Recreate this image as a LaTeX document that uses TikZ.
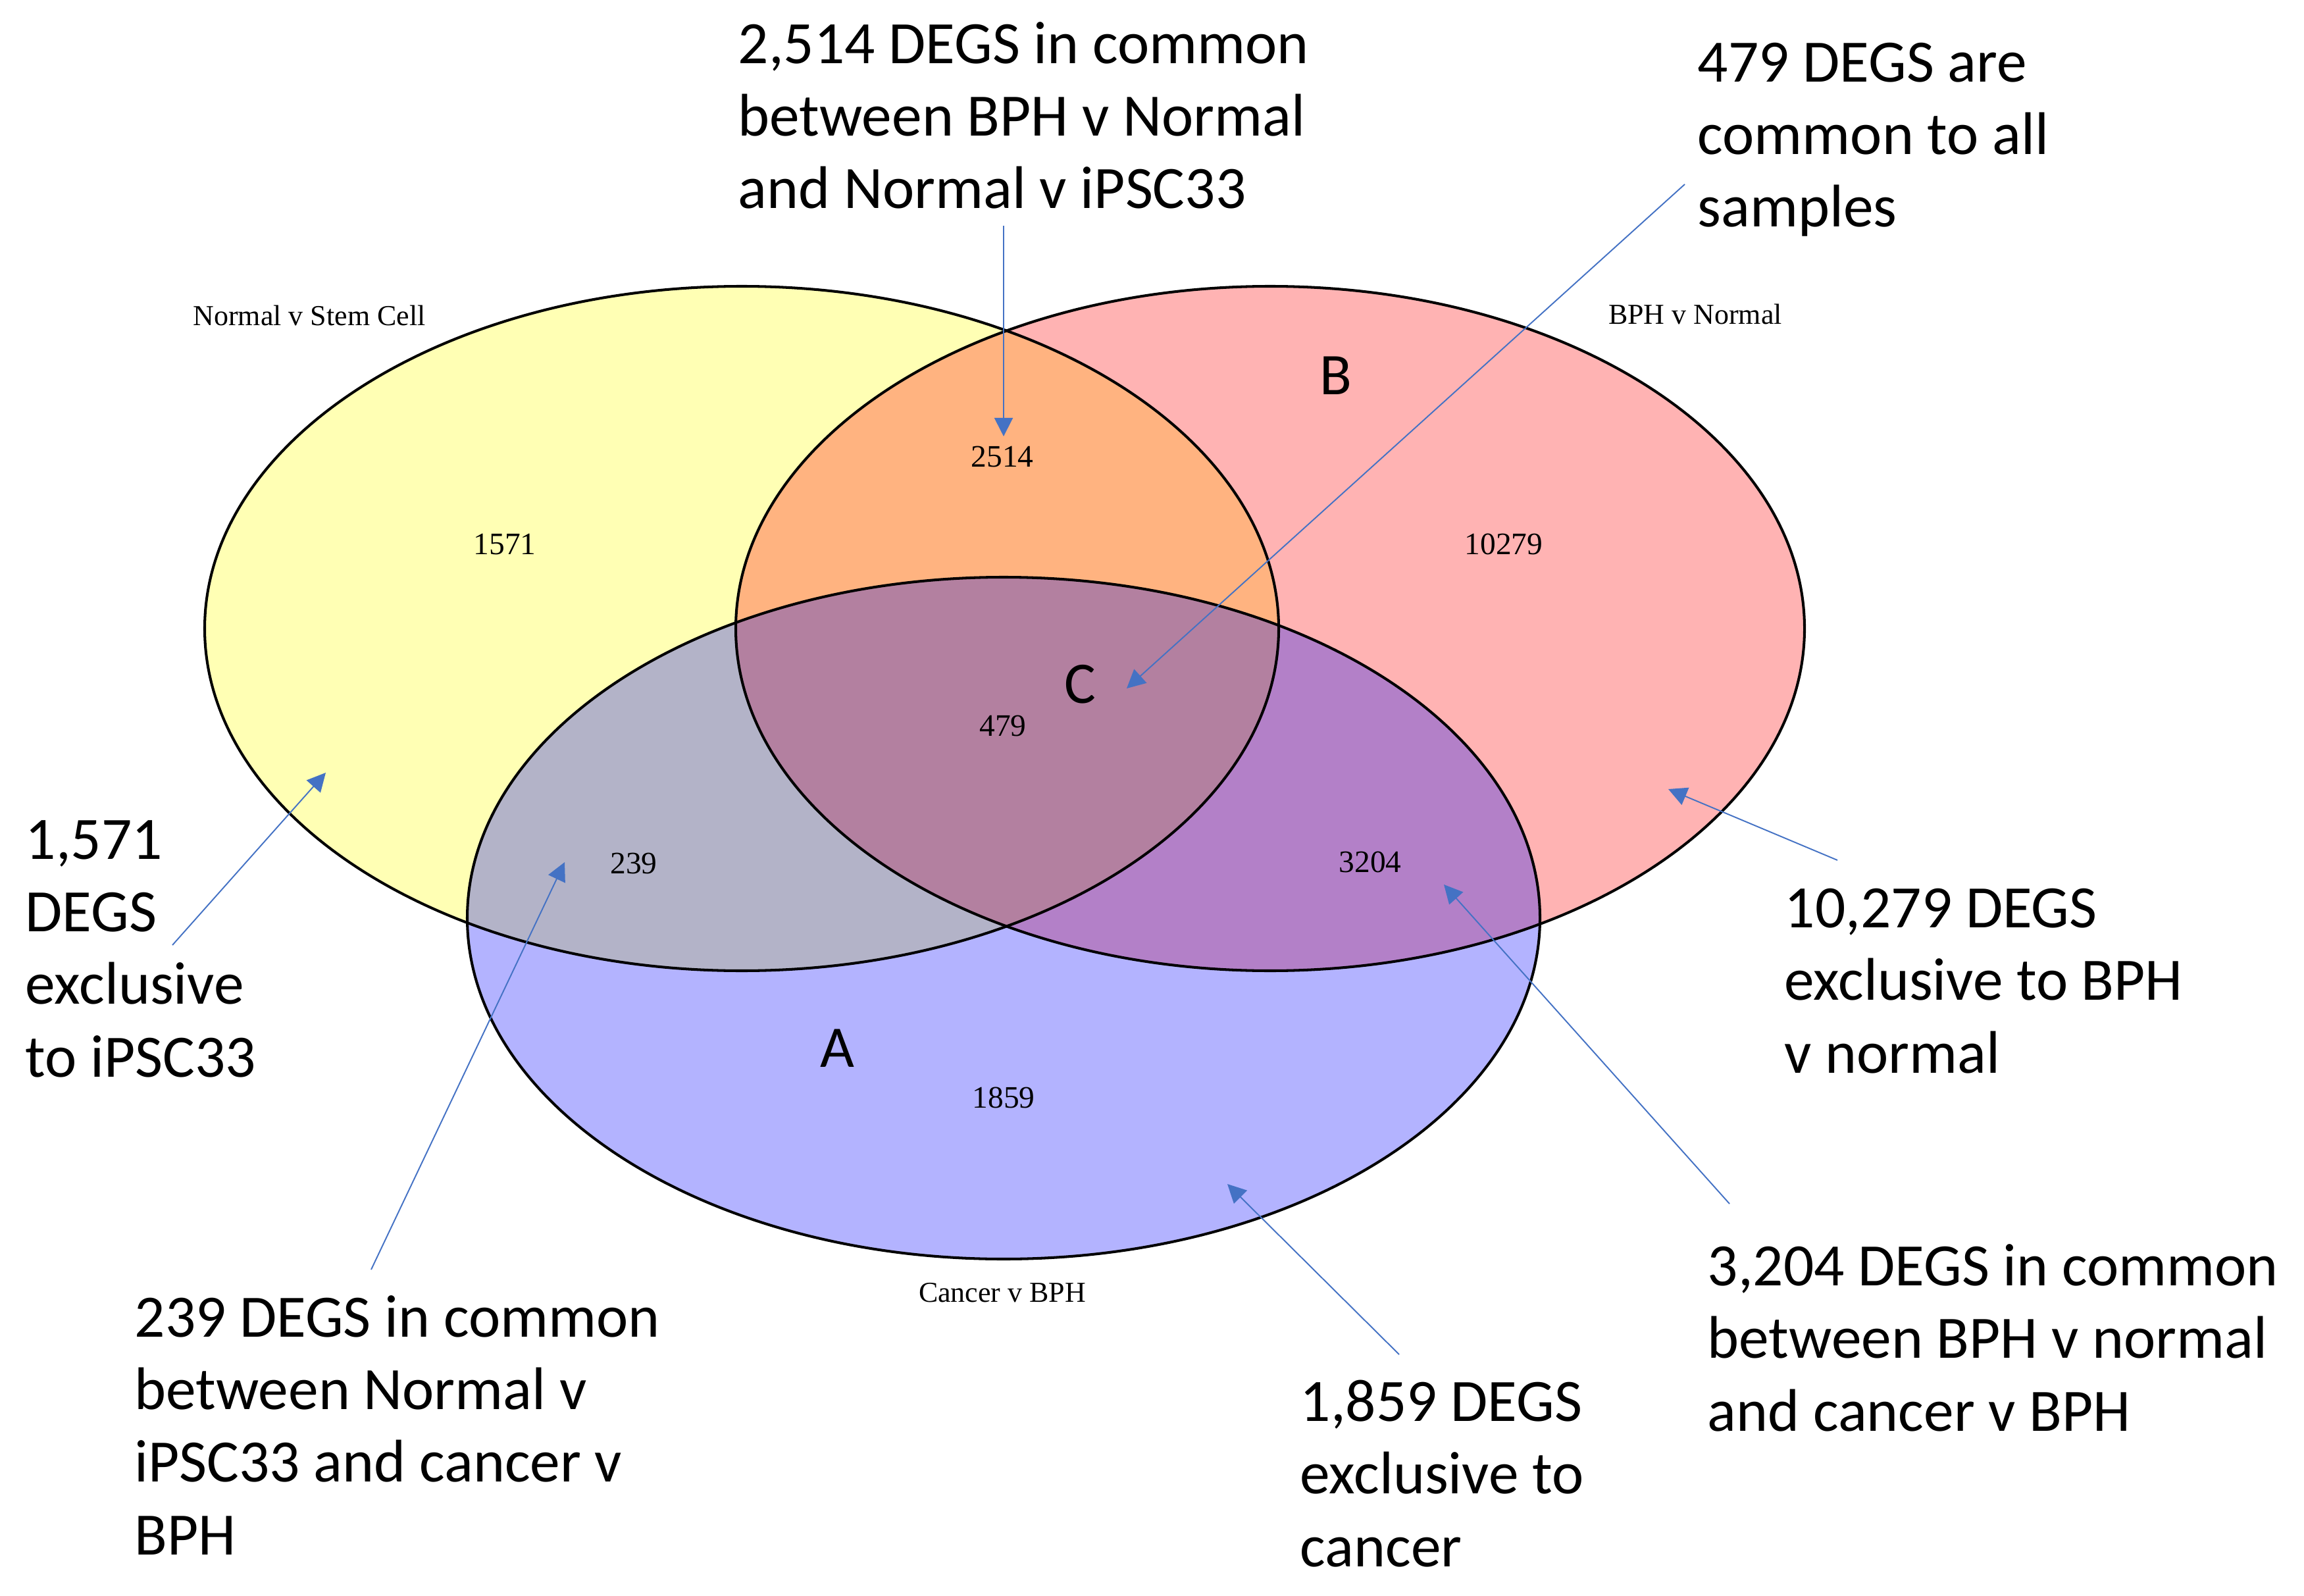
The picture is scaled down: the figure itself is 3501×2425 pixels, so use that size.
\documentclass[tikz,border=0pt]{standalone}
\usepackage{fontspec}
\setmainfont{Carlito}
\newfontfamily\tms{Liberation Serif}
\usetikzlibrary{arrows.meta}
\definecolor{cY}{RGB}{255,255,180}
\definecolor{cP}{RGB}{255,179,179}
\definecolor{cB}{RGB}{179,179,255}
\definecolor{cYP}{RGB}{255,179,128}
\definecolor{cYB}{RGB}{179,179,200}
\definecolor{cPB}{RGB}{179,128,200}
\definecolor{cYPB}{RGB}{179,128,160}
\definecolor{arrblue}{RGB}{68,114,196}
\def\yelE{(1127,955) ellipse [x radius=816, y radius=520]}
\def\pnkE{(1930,955) ellipse [x radius=812, y radius=520]}
\def\bluE{(1525,1395) ellipse [x radius=815, y radius=518]}
\begin{document}
\begin{tikzpicture}[x=0.01cm,y=-0.01cm,
  callout/.style={anchor=base west,align=left,inner sep=0pt,font=\fontsize{26pt}{31.3pt}\selectfont},
  setlab/.style={anchor=base,inner sep=0pt,font=\tms\fontsize{12.5pt}{15pt}\selectfont},
  numlab/.style={anchor=base,inner sep=0pt,font=\tms\fontsize{13.5pt}{16pt}\selectfont},
  letter/.style={anchor=base,inner sep=0pt,font=\fontsize{25.5pt}{30pt}\selectfont},
  arr/.style={draw=arrblue,line width=0.55pt,-{Triangle[length=8pt,width=8pt]}},
  outline/.style={draw=black,line width=1.15pt}]
\useasboundingbox (0,0) rectangle (3501,2425);
% fills
\fill[cY] \yelE;
\fill[cP] \pnkE;
\fill[cB] \bluE;
\begin{scope}\clip \yelE; \fill[cYP] \pnkE; \end{scope}
\begin{scope}\clip \yelE; \fill[cYB] \bluE; \end{scope}
\begin{scope}\clip \pnkE; \fill[cPB] \bluE; \end{scope}
\begin{scope}\clip \yelE; \clip \pnkE; \fill[cYPB] \bluE; \end{scope}
% outlines
\draw[outline] \yelE;
\draw[outline] \pnkE;
\draw[outline] \bluE;
% set labels
\node[setlab] (lN) at (470,495) {Normal v Stem Cell};
\node[setlab] (lB) at (2576,493) {BPH v Normal};
\node[setlab] (lC) at (1523,1978) {Cancer v BPH};
% region numbers
\node[numlab] (n2514) at (1523,710) {2514};
\node[numlab] (n1571) at (767,843) {1571};
\node[numlab] (n10279) at (2285,842) {10279};
\node[numlab] (n479) at (1524,1118) {479};
\node[numlab] (n239) at (963,1327) {239};
\node[numlab] (n3204) at (2082,1325) {3204};
\node[numlab] (n1859) at (1525,1683) {1859};
% letters
\node[letter] (LA) at (1272,1621) {A};
\node[letter] (LB) at (2030,600) {B};
\node[letter] (LC) at (1641,1068) {C};
% callouts (anchored at the baseline of their last line)
\node[callout] (c2514) at (1121,317) {2,514 DEGS in common\\between BPH v Normal\\and Normal v iPSC33};
\node[callout] (c479) at (2579,345) {479 DEGS are\\common to all\\samples};
\node[callout] (c1571) at (38,1636) {1,571\\DEGS\\exclusive\\to iPSC33};
\node[callout] (c10279) at (2711,1630) {10,279 DEGS\\exclusive to BPH\\v normal};
\node[callout] (c239) at (204,2362) {239 DEGS in common\\between Normal v\\iPSC33 and cancer v\\BPH};
\node[callout] (c1859) at (1975,2380) {1,859 DEGS\\exclusive to\\cancer};
\node[callout] (c3204) at (2594,2174) {3,204 DEGS in common\\between BPH v normal\\and cancer v BPH};
% arrow end points
\coordinate (s1) at (1525,343);  \coordinate (t1) at (1525,663);
\coordinate (s2) at (2560,280);  \coordinate (t2) at (1712,1046);
\coordinate (s3) at (262,1436);  \coordinate (t3) at (495,1174);
\coordinate (s4) at (2792,1307); \coordinate (t4) at (2535,1199);
\coordinate (s5) at (564,1929);  \coordinate (t5) at (858,1310);
\coordinate (s6) at (2126,2058); \coordinate (t6) at (1865,1799);
\coordinate (s7) at (2628,1829); \coordinate (t7) at (2194,1344);
\draw[arr] (s1) -- (t1);
\draw[arr] (s2) -- (t2);
\draw[arr] (s3) -- (t3);
\draw[arr] (s4) -- (t4);
\draw[arr] (s5) -- (t5);
\draw[arr] (s6) -- (t6);
\draw[arr] (s7) -- (t7);
\end{tikzpicture}
\end{document}
